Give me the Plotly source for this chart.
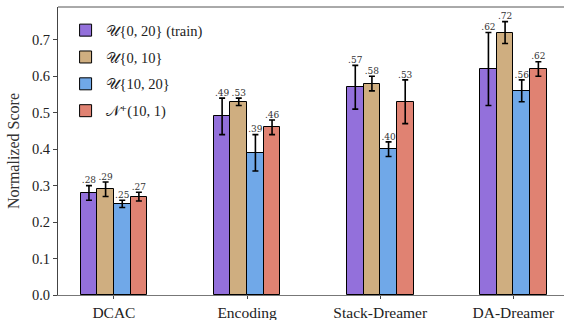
import plotly.graph_objects as go

categories = ["DCAC", "Encoding", "Stack-Dreamer", "DA-Dreamer"]
series_names = ["𝒰{0, 20} (train)", "𝒰{0, 10}", "𝒰{10, 20}", "𝒩⁺(10, 1)"]
colors = ["#9370DB", "#CFAE80", "#70A8E8", "#E08272"]

means = [
    [0.28, 0.49, 0.57, 0.62],
    [0.29, 0.53, 0.58, 0.72],
    [0.25, 0.39, 0.40, 0.56],
    [0.27, 0.46, 0.53, 0.62],
]
errors = [
    [0.02, 0.05, 0.06, 0.10],
    [0.02, 0.01, 0.02, 0.03],
    [0.01, 0.05, 0.02, 0.03],
    [0.012, 0.02, 0.06, 0.02],
]

bar_w = 0.125
n = len(series_names)
font_family = "Liberation Serif, DejaVu Serif, serif"

fig = go.Figure()
for j, name in enumerate(series_names):
    off = (j - (n - 1) / 2) * bar_w
    xs = [i + off for i in range(len(categories))]
    fig.add_trace(go.Bar(
        x=xs, y=means[j], width=bar_w, name=name,
        marker=dict(color=colors[j], line=dict(color="black", width=1)),
        error_y=dict(type="data", array=errors[j], color="black", thickness=1.6, width=3),
        legendgroup=name,
    ))
    fig.add_trace(go.Scatter(
        x=xs, y=[m + e for m, e in zip(means[j], errors[j])],
        mode="text", text=[f"{m:.2f}"[1:] for m in means[j]],
        textposition="top center",
        textfont=dict(size=9, color="#333", family="DejaVu Serif, serif"),
        showlegend=False, hoverinfo="skip",
    ))

fig.add_shape(type="line", xref="paper", yref="paper", x0=0, x1=1, y0=1, y1=1,
              line=dict(color="#555", width=1))

fig.update_layout(
    width=564, height=320,
    margin=dict(l=58, r=0, t=7, b=25),
    paper_bgcolor="white", plot_bgcolor="white",
    font=dict(family=font_family, color="#222", size=14),
    showlegend=True,
    legend=dict(x=0.015, y=0.975, xanchor="left", yanchor="top",
                font=dict(size=14.5, family=font_family, color="#222"),
                bgcolor="rgba(0,0,0,0)", tracegroupgap=5, traceorder="grouped",
                itemwidth=30),
    bargap=0,
)
fig.update_xaxes(
    range=[-0.42, 3.38], tickvals=list(range(len(categories))), ticktext=categories,
    showline=True, linecolor="#777", linewidth=1,
    ticks="outside", ticklen=3, tickcolor="#444",
    showgrid=False, zeroline=False, tickfont=dict(size=15.5),
)
fig.update_yaxes(
    range=[0, 0.79], tickvals=[i / 10 for i in range(8)],
    ticktext=[f"{i / 10:.1f}" for i in range(8)],
    showline=True, linecolor="#444", linewidth=1,
    ticks="outside", ticklen=4, tickcolor="#444",
    showgrid=False, zeroline=False, tickfont=dict(size=14.5),
    title=dict(text="Normalized Score", font=dict(size=16, color="#333"), standoff=8),
)

fig.write_html("out.html")
